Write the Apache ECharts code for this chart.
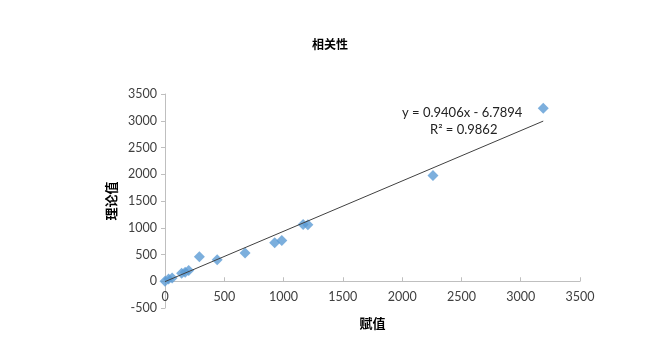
<!DOCTYPE html>
<html>
<head>
<meta charset="utf-8">
<script src="https://cdn.jsdelivr.net/npm/echarts@6/dist/echarts.min.js"></script>
<style>html,body{margin:0;padding:0;background:#fff}#c{width:672px;height:349px}</style>
</head>
<body>
<div id="c"></div>
<script>
// Data
var xValues = [0, 30, 60, 140, 170, 200, 290, 440, 675, 925, 985, 1165, 1205, 2260, 3190];
var yValues = [0, 40, 60, 150, 170, 200, 460, 400, 530, 720, 760, 1060, 1055, 1975, 3235];
var trendSlope = 0.9406;
var trendIntercept = -6.7894;
var trendText = ['y = 0.9406x - 6.7894', 'R² = 0.9862'];
var titleText = '相关性';
var xName = '赋值';
var yName = '理论值';

var pts = xValues.map(function (x, i) { return [x, yValues[i]]; });
var xmin = Math.min.apply(null, xValues), xmax = Math.max.apply(null, xValues);
var trend = [[xmin, trendSlope * xmin + trendIntercept], [xmax, trendSlope * xmax + trendIntercept]];

var chart = echarts.init(document.getElementById('c'), null, {renderer: 'canvas'});
var numFont = {fontFamily: 'Lato', fontSize: 12.5, color: '#404040', formatter: function (v) { return String(v); }};
chart.setOption({
  animation: false,
  title: {text: titleText, left: 325, top: 33, textAlign: 'center',
    textStyle: {fontFamily: 'Noto Sans CJK SC', fontSize: 12, fontWeight: 'bold', color: '#000'}},
  grid: {left: 165, right: 92, top: 94, bottom: 41, containLabel: false, outerBoundsMode: 'none'},
  xAxis: {
    type: 'value', min: 0, max: 3500, interval: 500,
    offset: -26.75,
    name: xName, nameLocation: 'middle', nameGap: 35,
    nameTextStyle: {fontFamily: 'Noto Sans CJK SC', fontSize: 13, fontWeight: 'bold', color: '#000'},
    axisLine: {onZero: false, lineStyle: {color: '#bfbfbf'}},
    axisTick: {show: true, inside: true, length: 4, lineStyle: {color: '#bfbfbf'}},
    axisLabel: Object.assign({margin: 9}, numFont),
    splitLine: {show: false}
  },
  yAxis: {
    type: 'value', min: -500, max: 3500, interval: 500,
    name: yName, nameLocation: 'middle', nameGap: 45, nameRotate: 90,
    nameTextStyle: {fontFamily: 'Noto Sans CJK SC', fontSize: 13, fontWeight: 'bold', color: '#000'},
    axisLine: {show: true, onZero: false, lineStyle: {color: '#bfbfbf'}},
    axisTick: {show: true, length: 4, lineStyle: {color: '#bfbfbf'}},
    axisLabel: Object.assign({margin: 8}, numFont),
    splitLine: {show: false}
  },
  series: [
    {type: 'line', data: trend, symbol: 'none', lineStyle: {color: '#404040', width: 1}, z: 3},
    {type: 'scatter', data: pts, symbol: 'diamond', symbolSize: 11,
      itemStyle: {color: '#5b9bd5'}, z: 2}
  ],
  graphic: [
    {type: 'text', left: 402, top: 106, style: {text: trendText[0], font: '13px Lato', fill: '#222'}},
    {type: 'text', left: 430, top: 123, style: {text: trendText[1], font: '13px Lato', fill: '#222'}}
  ]
});
</script>
</body>
</html>
